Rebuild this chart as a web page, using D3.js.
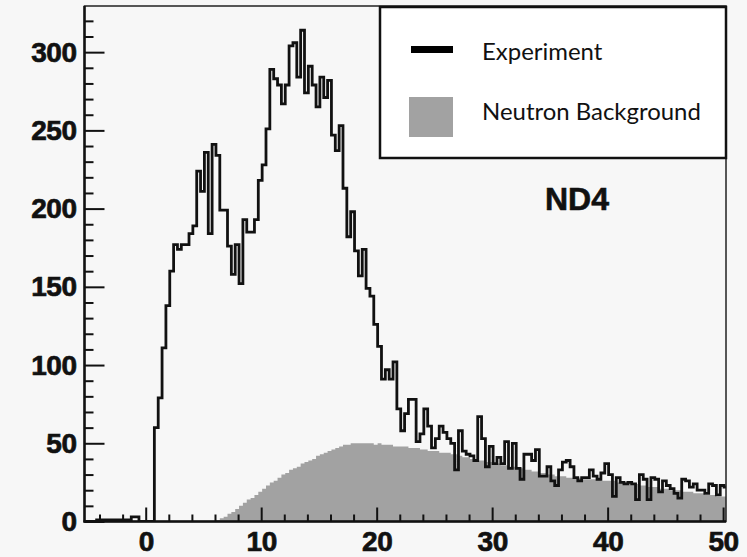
<!DOCTYPE html>
<html>
<head>
<meta charset="utf-8">
<script src="https://cdn.jsdelivr.net/npm/d3@7"></script>
<style>
  html, body { margin: 0; padding: 0; background: #f7f7f7; }
  svg { display: block; }
</style>
</head>
<body>
<svg id="chart" width="747" height="557"></svg>
<script>
// ---------------- DATA ----------------
const binStart = -5.25;
const binWidth = 1 / 3;

// Experiment counts per bin (bins of 1/3 starting at -5.25)
const experiment = [
  0,0,0,1,1,1,1,1,1,1,1,1,3,3,0,0,0,0,
  60,79,111,138,160,177,174,177,177,184,189,224,211,236,184,241,234,199,199,176,158,177,152,
  193,185,185,193,218,228,251,289,283,279,267,279,304,306,284,314,274,291,279,265,284,271,282,247,237,253,213,
  182,198,173,157,174,149,144,126,112,91,97,91,102,72,58,69,78,78,51,56,72,61,
  47,53,61,57,53,50,33,58,45,43,42,39,67,53,35,48,37,41,37,51,34,50,34,27,43,
  43,39,46,29,29,35,26,23,33,38,39,35,28,26,28,28,33,29,27,31,37,30,16,28,25,24,
  25,24,14,30,27,14,28,27,19,26,23,21,18,15,27,26,22,24,20,20,18,24,23,17,23,22
];

// Neutron background per bin (same binning)
const neutronBackground = [
  0,0,0,0,0,0,0,0,0,0,0,0,0,0,0,0,0,0,
  0,0,0,0,0,0,0,0,0,0,0,0,0,0,0,0,
  1,2,3, 5,6,8, 10,12,14, 15,17,19, 21,23,25, 26,28,30, 31,33,34, 35,37,38,
  39,40,42, 43,44,45, 46,47,48, 49,49,50, 50,50,50, 50,50,49, 50,49,49, 49,48,48,
  48,48,47, 47,47,46, 46,45,45, 45,44,44, 44,43,43, 42,41,41, 40,40,39, 39,38,38,
  37,37,36, 36,35,35, 34,34,33, 33,32,32, 31,31,30, 30,29,29, 29,28,28, 28,28,27,
  27,27,27, 27,26,26, 26,26,25, 25,25,25,
  24,24,23, 23,22,22, 22,21,21, 21,20,20, 20,19,19, 19,18,18, 18,17,17, 17,16,16, 16
];

const xMajorTicks = [0, 10, 20, 30, 40, 50];
const xMinorTicks = [-4, -2, 2, 4, 6, 8, 12, 14, 16, 18, 22, 24, 26, 28, 32, 34, 36, 38, 42, 44, 46, 48];
const yMajorTicks = [0, 50, 100, 150, 200, 250, 300];
const yMinorTicks = [10, 20, 30, 40, 60, 70, 80, 90, 110, 120, 130, 140, 160, 170, 180, 190, 210, 220, 230, 240, 260, 270, 280, 290, 310, 320];
const xLimits = [-5.3, 50.25];
const yLimits = [0, 329.5];
const legendLabels = ["Experiment", "Neutron Background"];
const panelLabel = "ND4";

// ---------------- CHART ----------------
const svg = d3.select("#chart");
const plot = { left: 84.5, right: 726, top: 6, bottom: 521.5 };

const x = d3.scaleLinear().domain(xLimits).range([plot.left, plot.right]);
const y = d3.scaleLinear().domain(yLimits).range([plot.bottom, plot.top]);

svg.append("rect").attr("x", 0).attr("y", 0).attr("width", 747).attr("height", 557).attr("fill", "#f7f7f7");

svg.append("defs").append("clipPath").attr("id", "clip")
  .append("rect")
  .attr("x", plot.left).attr("y", plot.top)
  .attr("width", plot.right - plot.left).attr("height", plot.bottom - plot.top);

function stepPoints(arr) {
  const pts = arr.map((v, i) => [binStart + i * binWidth, v]);
  pts.push([binStart + arr.length * binWidth, arr[arr.length - 1]]);
  return pts;
}

const g = svg.append("g").attr("clip-path", "url(#clip)");

// Neutron background (filled)
const area = d3.area()
  .x(d => x(d[0]))
  .y0(y(0))
  .y1(d => y(d[1]))
  .curve(d3.curveStepAfter);
g.append("path")
  .datum(stepPoints(neutronBackground))
  .attr("d", area)
  .attr("fill", "#a2a2a2");

// Experiment (step line)
const line = d3.line()
  .x(d => x(d[0]))
  .y(d => y(d[1]))
  .curve(d3.curveStepAfter);
g.append("path")
  .datum(stepPoints(experiment))
  .attr("d", line)
  .attr("fill", "none")
  .attr("stroke", "#111")
  .attr("stroke-width", 2.8)
  .attr("stroke-linejoin", "miter");

// Axes
const tickFont = "bold 28px 'Liberation Sans', Arial, Helvetica, sans-serif";

const yAxisMajor = svg.append("g")
  .attr("transform", `translate(${plot.left},0)`)
  .call(d3.axisLeft(y).tickValues(yMajorTicks).tickSize(-20).tickPadding(8));
const yAxisMinor = svg.append("g")
  .attr("transform", `translate(${plot.left},0)`)
  .call(d3.axisLeft(y).tickValues(yMinorTicks).tickSize(-9).tickFormat(""));

const xAxisMajor = svg.append("g")
  .attr("transform", `translate(0,${plot.bottom})`)
  .call(d3.axisBottom(x).tickValues(xMajorTicks).tickSize(-14).tickPadding(10));
const xAxisMinor = svg.append("g")
  .attr("transform", `translate(0,${plot.bottom})`)
  .call(d3.axisBottom(x).tickValues(xMinorTicks).tickSize(-7).tickFormat(""));

[yAxisMajor, yAxisMinor, xAxisMajor, xAxisMinor].forEach(a => {
  a.select(".domain").remove();
  a.selectAll(".tick line").attr("stroke", "#111").attr("stroke-width", 2);
  a.selectAll(".tick text")
    .attr("fill", "#111")
    .attr("stroke", "#111")
    .attr("stroke-width", 0.7)
    .style("font", tickFont)
    .style("letter-spacing", "-0.5px");
});

// Frame
svg.append("rect")
  .attr("x", plot.left).attr("y", plot.top)
  .attr("width", plot.right - plot.left).attr("height", plot.bottom - plot.top)
  .attr("fill", "none").attr("stroke", "#222").attr("stroke-width", 1.5);
svg.append("line")
  .attr("x1", plot.left).attr("x2", plot.left)
  .attr("y1", plot.top).attr("y2", plot.bottom + 1)
  .attr("stroke", "#111").attr("stroke-width", 2.5);
svg.append("line")
  .attr("x1", plot.left - 1).attr("x2", plot.right)
  .attr("y1", plot.bottom).attr("y2", plot.bottom)
  .attr("stroke", "#111").attr("stroke-width", 2.5);

// Legend
const lg = svg.append("g");
lg.append("rect")
  .attr("x", 380).attr("y", 7).attr("width", 346).attr("height", 151)
  .attr("fill", "#ffffff").attr("stroke", "#111").attr("stroke-width", 2.5);
lg.append("rect")
  .attr("x", 411).attr("y", 46).attr("width", 42).attr("height", 7)
  .attr("fill", "#000");
lg.append("rect")
  .attr("x", 409).attr("y", 97).attr("width", 44).attr("height", 40)
  .attr("fill", "#a2a2a2");

const legendFont = "Lato, 'Open Sans', sans-serif";
const t1 = lg.append("text")
  .attr("x", 482).attr("y", 60)
  .attr("font-family", legendFont).attr("font-size", 22).attr("fill", "#111")
  .text(legendLabels[0]);
const t2 = lg.append("text")
  .attr("x", 482).attr("y", 120)
  .attr("font-family", legendFont).attr("font-size", 22).attr("fill", "#111")
  .text(legendLabels[1]);
// scale legend font to match target width
const w2 = t2.node().getComputedTextLength();
const fs = 22 * 219 / w2;
t1.attr("font-size", fs);
t2.attr("font-size", fs);

svg.append("text")
  .attr("x", 577).attr("y", 210)
  .attr("text-anchor", "middle")
  .attr("stroke", "#111").attr("stroke-width", 0.6)
  .style("font", "bold 32px 'Liberation Sans', Arial, sans-serif")
  .attr("fill", "#111")
  .text(panelLabel);
</script>
</body>
</html>
